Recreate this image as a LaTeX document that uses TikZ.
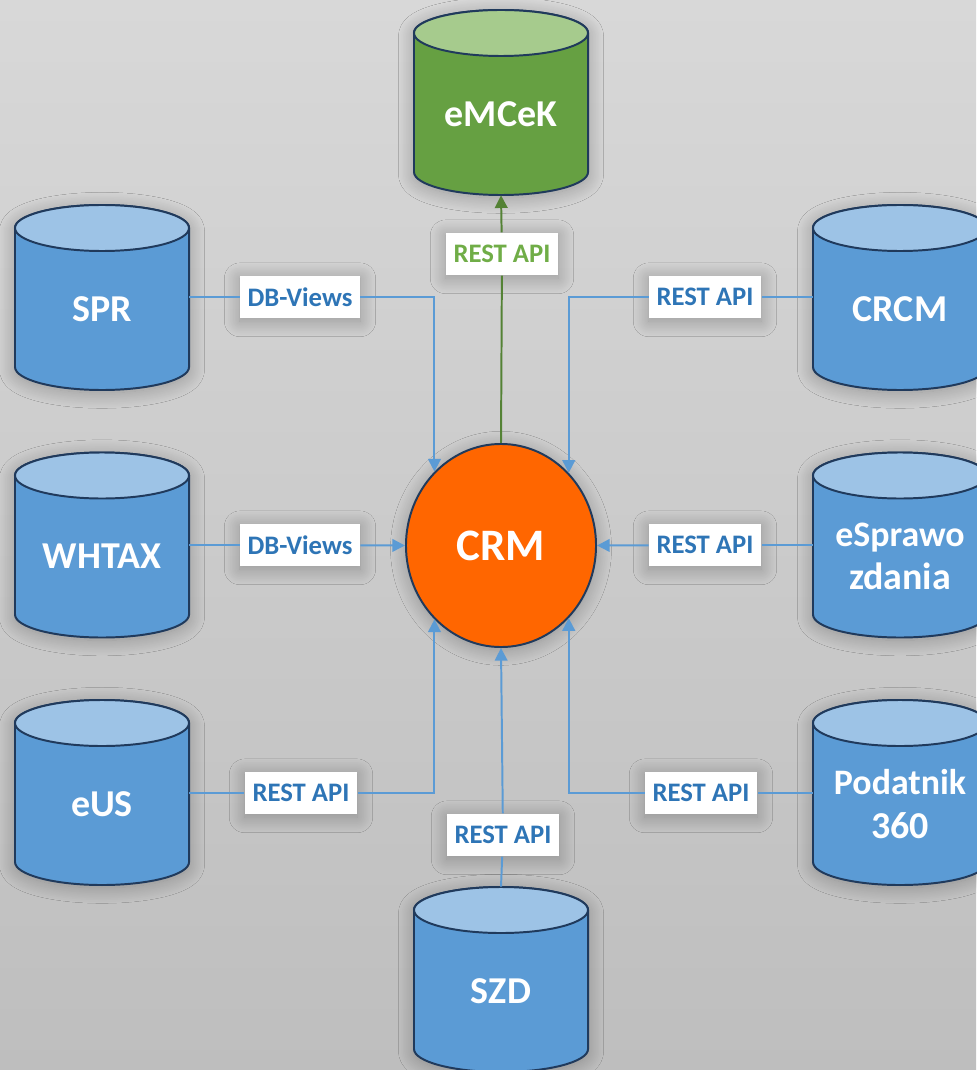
\documentclass[tikz,border=0pt]{standalone}
\usepackage{fontspec}
\setmainfont{Carlito}
\usetikzlibrary{arrows.meta,positioning,shadows.blur,shapes.geometric}

\definecolor{dbblue}{HTML}{5B9BD5}
\definecolor{dbtop}{HTML}{9DC3E6}
\definecolor{dbgreen}{HTML}{66A042}
\definecolor{dbgreentop}{HTML}{A6CB8D}
\definecolor{rim}{HTML}{203A5C}
\definecolor{crmorange}{HTML}{FF6600}
\definecolor{txtblue}{HTML}{2E75B6}
\definecolor{txtgreen}{HTML}{70AD47}
\definecolor{linkgreen}{HTML}{548235}
\definecolor{bgtop}{HTML}{D8D8D8}
\definecolor{bgmid}{HTML}{E8E8E8}
\definecolor{bgbot}{HTML}{BEBEBE}

\tikzset{
  halo/.style={blur shadow={shadow xshift=0pt,shadow yshift=-2pt,
      shadow blur radius=11pt,shadow blur steps=25,shadow opacity=28}},
  db/.style={minimum width=4.35cm,minimum height=4.05cm,inner sep=0pt,
    text=white,font=\fontsize{27}{31}\selectfont\bfseries,align=center},
  cyl/.style={draw=rim,line width=1.4pt},
  lbl/.style={fill=white,text=txtblue,font=\fontsize{19}{22}\selectfont\bfseries,
    inner xsep=5.5pt,inner ysep=0pt,minimum height=1.07cm,halo},
  link/.style={draw=dbblue,line width=1.4pt},
  feed/.style={link,-{Triangle[width=9pt,length=9pt]}}
}

\begin{document}
\begin{tikzpicture}[x=0.025cm,y=-0.025cm]
  \fill[top color=bgtop,middle color=bgmid,bottom color=bgbot] (0,0) rectangle (976,1070);
  \useasboundingbox (0,0) rectangle (976,1070);

  % systems: cylinder, then a node over its body
  \foreach \n/\x/\y/\body/\lid/\txt in {eMCeK/501/114/dbgreen/dbgreentop/eMCeK,
      SPR/102/309/dbblue/dbtop/SPR,WHTAX/102/556.5/dbblue/dbtop/WHTAX,
      eUS/102/804/dbblue/dbtop/eUS,CRCM/900/309/dbblue/dbtop/CRCM,
      eSpr/900/556.5/dbblue/dbtop/{\fontsize{25.5}{31}\selectfont eSprawo\\zdania},
      P360/900/804/dbblue/dbtop/{\fontsize{25.5}{31}\selectfont Podatnik\\360},
      SZD/501/991/dbblue/dbtop/SZD}{
    \filldraw[cyl,fill=\body,halo] (\x,\y) ++(-87,-81) -- ++(0,139)
      arc[start angle=180,end angle=360,x radius=2.175cm,y radius=0.575cm]
      -- ++(0,-139)
      arc[start angle=0,end angle=180,x radius=2.175cm,y radius=0.575cm] -- cycle;
    \filldraw[cyl,fill=\lid] (\x,\y) ++(0,-81) ellipse [x radius=2.175cm,y radius=0.575cm];
    \node[db] (\n) at (\x,\y) {\txt};
  }

  % hub
  \node[ellipse,fill=crmorange,draw=rim,line width=1.4pt,minimum width=4.75cm,
    minimum height=5.075cm,inner sep=0pt,text=white,
    font=\fontsize{32}{36}\selectfont\bfseries,halo] (CRM) at (501,545.5) {CRM};

  % interfaces
  \node[lbl] (vSPR) at (300,297) {DB-Views};
  \node[lbl] (vWHTAX) at (300,545) {DB-Views};
  \node[lbl] (aEUS) at (301,793) {REST API};
  \node[lbl] (aCRCM) at (705,297) {REST API};
  \node[lbl] (aSpr) at (705,545) {REST API};
  \node[lbl] (aP360) at (701,793) {REST API};
  \node[lbl] (aSZD) at (503,835) {REST API};
  \node[lbl,text=txtgreen] (aMCK) at (502,254) {REST API};

  % connectors
  \draw[link] (SPR.east |- vSPR) -- (vSPR);
  \draw[feed] (vSPR) -| (CRM.132);
  \draw[link] (WHTAX.east |- vWHTAX) -- (vWHTAX);
  \draw[feed] (vWHTAX) -- (CRM.west);
  \draw[link] (eUS.east |- aEUS) -- (aEUS);
  \draw[feed] (aEUS) -| (CRM.228);
  \draw[link] (CRCM.west |- aCRCM) -- (aCRCM);
  \draw[feed] (aCRCM) -| (CRM.47);
  \draw[link] (eSpr.west |- aSpr) -- (aSpr);
  \draw[feed] (aSpr) -- (CRM.east);
  \draw[link] (P360.west |- aP360) -- (aP360);
  \draw[feed] (aP360) -| (CRM.-47);
  \draw[link] ([yshift=0.575cm]SZD.north) -- (aSZD);
  \draw[feed] (aSZD) -- (CRM.south);
  \draw[link,draw=linkgreen] (CRM.north) -- (aMCK);
  \draw[feed,draw=linkgreen,fill=linkgreen] (aMCK) -- (eMCeK.south);
\end{tikzpicture}
\end{document}
